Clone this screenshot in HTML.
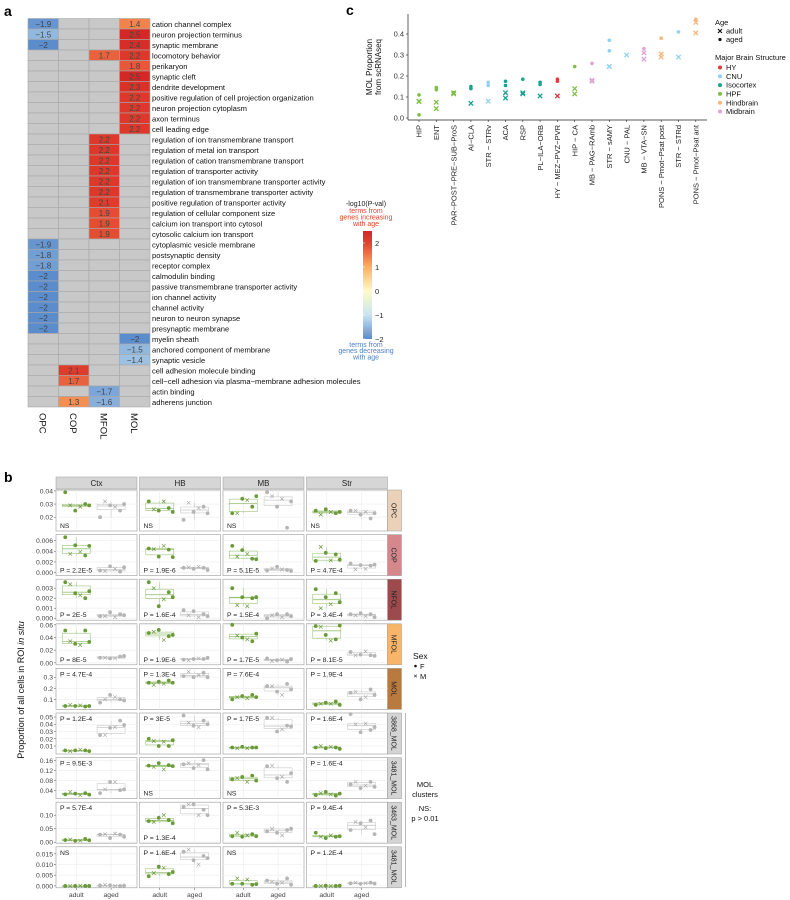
<!DOCTYPE html>
<html><head><meta charset="utf-8">
<style>
body{margin:0;background:#fff;}
svg{font-family:"Liberation Sans",sans-serif;display:block;}
</style></head>
<body>
<svg id="fig" width="790" height="900" viewBox="0 0 790 900" xmlns="http://www.w3.org/2000/svg">
<g id="pa"></g>
<g id="pc"></g>
<g id="pb"></g>
</svg>
<script>
// ===== Panel a data =====
const hmCols=["OPC","COP","MFOL","MOL"];
const hmTerms=["cation channel complex","neuron projection terminus","synaptic membrane","locomotory behavior","perikaryon","synaptic cleft","dendrite development","positive regulation of cell projection organization","neuron projection cytoplasm","axon terminus","cell leading edge","regulation of ion transmembrane transport","regulation of metal ion transport","regulation of cation transmembrane transport","regulation of transporter activity","regulation of ion transmembrane transporter activity","regulation of transmembrane transporter activity","positive regulation of transporter activity","regulation of cellular component size","calcium ion transport into cytosol","cytosolic calcium ion transport","cytoplasmic vesicle membrane","postsynaptic density","receptor complex","calmodulin binding","passive transmembrane transporter activity","ion channel activity","channel activity","neuron to neuron synapse","presynaptic membrane","myelin sheath","anchored component of membrane","synaptic vesicle","cell adhesion molecule binding","cell\u2212cell adhesion via plasma\u2212membrane adhesion molecules","actin binding","adherens junction"];
const hmOPC=[-1.9,-1.5,-2,null,null,null,null,null,null,null,null,null,null,null,null,null,null,null,null,null,null,-1.9,-1.8,-1.8,-2,-2,-2,-2,-2,-2,null,null,null,null,null,null,null];
const hmCOP=[null,null,null,null,null,null,null,null,null,null,null,null,null,null,null,null,null,null,null,null,null,null,null,null,null,null,null,null,null,null,null,null,null,2.1,1.7,null,1.3];
const hmMFOL=[null,null,null,1.7,null,null,null,null,null,null,null,2.2,2.2,2.2,2.2,2.2,2.2,2.1,1.9,1.9,1.9,null,null,null,null,null,null,null,null,null,null,null,null,null,null,-1.7,-1.6];
const hmMOL=[1.4,2.5,2.4,2.2,1.8,2.5,2.3,2.2,2.2,2.2,2.2,null,null,null,null,null,null,null,null,null,null,null,null,null,null,null,null,null,null,null,-2,-1.5,-1.4,null,null,null,null];
const cbTicks=[2,1,0,-1,-2];

// ===== Panel c data =====
const cCats=["HIP","ENT","PAR\u2212POST\u2212PRE\u2212SUB\u2212ProS","AI\u2212CLA","STR \u2212 STRv","ACA","RSP","PL\u2212ILA\u2212ORB","HY \u2212 MEZ\u2212PVZ\u2212PVR","HIP \u2212 CA","MB \u2212 PAG\u2212RAmb","STR \u2212 sAMY","CNU \u2212 PAL","MB \u2212 VTA\u2212SN","PONS \u2212 Pmot\u2212Psat post","STR \u2212 STRd","PONS \u2212 Pmot\u2212Psat ant"];
const cStruct=["HPF","HPF","HPF","Isocortex","CNU","Isocortex","Isocortex","Isocortex","HY","HPF","Midbrain","CNU","CNU","Midbrain","Hindbrain","CNU","Hindbrain"];
const cAdult=[[0.08,0.078],[0.075,0.045],[0.12,0.115],[0.07],[0.08],[0.12,0.095],[0.115,0.12],[0.105],[0.105],[0.14,0.115],[0.18,0.175],[0.245,0.245],[0.30],[0.31,0.28],[0.305,0.29],[0.29],[0.455,0.405]];
const cAged=[[0.11,0.015],[0.145,0.135],[0.12],[0.15,0.14],[0.17,0.155],[0.175,0.155],[0.185],[0.17,0.16],[0.185,0.175],[0.245],[0.26],[0.37,0.32],[],[0.33],[0.38],[0.41],[0.47]];
const cYTicks=[0.0,0.1,0.2,0.3,0.4];
const structNames=["HY","CNU","Isocortex","HPF","Hindbrain","Midbrain"];
const structColors={"HY":"#e8393a","CNU":"#8fd3f2","Isocortex":"#1aa38f","HPF":"#7bc143","Hindbrain":"#f8b77c","Midbrain":"#e0a3d1"};

// ===== Panel b data =====
const bRegions=["Ctx","HB","MB","Str"];
const bRows=["OPC","COP","NFOL","MFOL","MOL","3868_MOL","3481_MOL","3463_MOL","3481_MOL"];
const bRowColors=["#ebd1b8","#d4888c","#9c4a4c","#f6b56b","#b97a40","#d4d4d4","#d4d4d4","#d4d4d4","#d4d4d4"];
const bYMin=[0.0095,-0.00055,-0.0002,-0.0031,0.009,-0.001,0.008,-0.0037,-0.0009];
const bYMax=[0.0407,0.0071,0.0039,0.0616,0.38,0.0555,0.172,0.148,0.0183];
const bTicks=[[0.02,0.03,0.04],[0,0.002,0.004,0.006],[0,0.001,0.002,0.003],[0,0.02,0.04,0.06],[0.1,0.2,0.3],[0.01,0.02,0.03,0.04,0.05],[0.04,0.08,0.12,0.16],[0,0.05,0.10],[0,0.005,0.010,0.015]];
const bTickLabels=[["0.02","0.03","0.04"],["0.000","0.002","0.004","0.006"],["0.000","0.001","0.002","0.003"],["0.00","0.02","0.04","0.06"],["0.1","0.2","0.3"],["0.01","0.02","0.03","0.04","0.05"],["0.04","0.08","0.12","0.16"],["0.00","0.05","0.10"],["0.000","0.005","0.010","0.015"]];
const bP=[["NS","NS","NS","NS"],["P = 2.2E-5","P = 1.9E-6","P = 5.1E-5","P = 4.7E-4"],["P = 2E-5","P = 1.6E-4","P = 1.5E-4","P = 3.4E-4"],["P = 8E-5","P = 1.9E-6","P = 1.7E-5","P = 8.1E-5"],["P = 4.7E-4","P = 1.3E-4","P = 7.6E-4","P = 1.9E-4"],["P = 1.2E-4","P = 3E-5","P = 1.7E-5","P = 1.6E-4"],["P = 9.5E-3","NS","NS","P = 1.6E-4"],["P = 5.7E-4","P = 1.3E-4","P = 5.3E-3","P = 9.4E-4"],["NS","P = 1.6E-4","NS","P = 1.2E-4"]];
const bPPos=[["b","b","b","b"],["b","b","b","b"],["b","b","b","b"],["b","b","b","b"],["t","t","t","t"],["t","t","t","t"],["t","b","b","t"],["t","b","t","t"],["t","t","t","t"]];
const bAdult=[
 [[0.039,0.029,0.025,0.028,0.030,0.029],[0.032,0.026,0.025,0.032,0.027,0.024],[0.023,0.023,0.034,0.033,0.028,0.036],[0.025,0.022,0.026,0.024,0.023,0.024]],
 [[0.0066,0.0035,0.0051,0.0039,0.0032,0.0050],[0.0045,0.0044,0.0030,0.0050,0.0043,0.0029],[0.0050,0.0030,0.0042,0.0035,0.0026,0.0025],[0.0022,0.0048,0.0037,0.0023,0.0034,0.0024]],
 [[0.0036,0.0034,0.0025,0.0023,0.0020,0.0027],[0.0036,0.0030,0.0012,0.0019,0.0026,0.0021],[0.0030,0.0013,0.0021,0.0012,0.0020,0.0021],[0.0029,0.0010,0.0021,0.0014,0.0025,0.0016]],
 [[0.051,0.034,0.030,0.028,0.051,0.033],[0.047,0.049,0.052,0.036,0.042,0.044],[0.060,0.043,0.040,0.037,0.034,0.046],[0.058,0.057,0.044,0.035,0.037,0.059]],
 [[0.04,0.05,0.04,0.045,0.035,0.04],[0.25,0.23,0.26,0.24,0.27,0.25],[0.10,0.12,0.13,0.11,0.14,0.12],[0.05,0.06,0.07,0.06,0.08,0.05]],
 [[0.004,0.003,0.004,0.005,0.004,0.003],[0.020,0.017,0.010,0.016,0.010,0.018],[0.008,0.007,0.009,0.007,0.008,0.008],[0.008,0.010,0.007,0.009,0.008,0.006]],
 [[0.025,0.035,0.028,0.022,0.030,0.024],[0.140,0.135,0.150,0.125,0.142,0.138],[0.085,0.090,0.095,0.075,0.100,0.080],[0.022,0.030,0.035,0.025,0.020,0.028]],
 [[0.008,0.010,0.005,0.006,0.012,0.007],[0.078,0.075,0.090,0.100,0.082,0.070],[0.022,0.035,0.020,0.025,0.030,0.022],[0.035,0.020,0.015,0.025,0.020,0.022]],
 [[0.0000,0.0000,0.0000,0.0001,0.0000,0.0000],[0.0045,0.0060,0.0090,0.0085,0.0055,0.0065],[0.0010,0.0035,0.0010,0.0030,0.0005,0.0008],[0.0000,0.0000,0.0001,0.0000,0.0000,0.0001]]];
const bAged=[
 [[0.020,0.032,0.029,0.028,0.025,0.030],[0.018,0.031,0.024,0.027,0.028,0.023],[0.039,0.036,0.028,0.034,0.012,0.032],[0.025,0.025,0.022,0.024,0.019,0.023]],
 [[0.0004,0.0003,0.0012,0.0007,0.0002,0.0010],[0.0009,0.0010,0.0007,0.0011,0.0009,0.0005],[0.0004,0.0008,0.0011,0.0006,0.0005,0.0003],[0.0017,0.0006,0.0014,0.0007,0.0013,0.0015]],
 [[0.0002,0.0002,0.0006,0.0001,0.0004,0.0003],[0.0008,0.0003,0.0007,0.0001,0.0004,0.0002],[0.0000,0.0003,0.0004,0.0001,0.0004,0.0002],[0.0004,0.0003,0.0005,0.0002,0.0004,0.0001]],
 [[0.008,0.008,0.007,0.007,0.010,0.011],[0.005,0.004,0.006,0.007,0.006,0.008],[0.007,0.003,0.004,0.005,0.002,0.006],[0.017,0.012,0.013,0.018,0.012,0.011]],
 [[0.07,0.10,0.14,0.12,0.10,0.09],[0.31,0.35,0.30,0.32,0.34,0.30],[0.22,0.22,0.17,0.14,0.24,0.19],[0.16,0.17,0.10,0.12,0.19,0.14]],
 [[0.025,0.025,0.035,0.036,0.045,0.039],[0.052,0.042,0.038,0.036,0.045,0.040],[0.049,0.049,0.030,0.033,0.038,0.037],[0.054,0.040,0.029,0.041,0.032,0.036]],
 [[0.030,0.045,0.075,0.075,0.042,0.045],[0.145,0.150,0.130,0.142,0.162,0.125],[0.138,0.140,0.090,0.095,0.075,0.110],[0.065,0.075,0.050,0.060,0.075,0.055]],
 [[0.028,0.030,0.015,0.032,0.028,0.020],[0.130,0.140,0.140,0.100,0.120,0.100],[0.040,0.050,0.035,0.025,0.045,0.050],[0.045,0.075,0.070,0.055,0.080,0.030]],
 [[0.0002,0.0005,0.0003,0.0000,0.0000,0.0001],[0.0160,0.0170,0.0120,0.0100,0.0140,0.0130],[0.0025,0.0020,0.0010,0.0015,0.0035,0.0005],[0.0012,0.0015,0.0010,0.0013,0.0015,0.0011]]];
const bShapes=["dot","cross","dot","cross","dot","dot"];
const bJit=[-11,-6,-1,4,9,13];

const NS="http://www.w3.org/2000/svg";
function mk(tag,attrs,parent,text){const e=document.createElementNS(NS,tag);for(const k in attrs)e.setAttribute(k,attrs[k]);if(text!==undefined)e.textContent=text;parent.appendChild(e);return e;}
const fig=document.getElementById('fig');

let t;
t=mk('text',{x:4,y:16,'font-size':14,'font-weight':'bold'},fig,'a');


t=mk('text',{x:346,y:15,'font-size':14,'font-weight':'bold'},fig,'c');


t=mk('text',{x:4,y:482,'font-size':14,'font-weight':'bold'},fig,'b');



// ===== Panel a =====
const pa=document.getElementById('pa');
function lerp(a,b,f){return a.map((v,i)=>Math.round(v+(b[i]-v)*f));}
const cstops=[[-2,[91,140,204]],[-1,[200,228,240]],[0,[255,251,196]],[1,[253,174,97]],[2,[226,66,46]],[2.5,[210,40,38]]];
function hcol(v){v=Math.max(-2,Math.min(2.5,v));for(let i=0;i<cstops.length-1;i++){if(v<=cstops[i+1][0]){const f=(v-cstops[i][0])/(cstops[i+1][0]-cstops[i][0]);const c=lerp(cstops[i][1],cstops[i+1][1],f);return `rgb(${c[0]},${c[1]},${c[2]})`;}}return 'rgb(210,40,38)';}
const hx0=28,cw=30.5,hy0=18.5,rh=10.5;
const hmVals=[hmOPC,hmCOP,hmMFOL,hmMOL];
function hxs(c){return hx0+c*cw;}
function hys(r){return hy0+r*rh;}
hmTerms.forEach((term,r)=>{
  for(let c=0;c<4;c++){
    const v=hmVals[c][r];
    const rect=mk('rect',{x:hxs(c),y:hys(r),width:cw,height:rh,fill:v===null?'#c8c8c8':hcol(v),stroke:'#a8a8a8','stroke-width':0.6},pa);
    
    
    if(v!==null){
      const tx=mk('text',{x:hxs(c)+cw/2,y:hys(r)+rh/2+3,'font-size':8,'text-anchor':'middle',fill:'#444'},pa,String(v).replace('-','\u2212'));
      
      
    }
  }
  const lb=mk('text',{x:hxs(4)+2,y:hys(r)+rh/2+3,'font-size':7.6,fill:'#111'},pa,term);
  
  
});
hmCols.forEach((c,i)=>{
  const x=hxs(i)+cw/2-4, y=hys(hmTerms.length)+6;
  const tx=mk('text',{x:x,y:y,'font-size':9.5,transform:`rotate(90 ${x} ${y})`,fill:'#111'},pa,c);
  
  
});
const cbx=363,cbw=9,cbTop=231,cbBot=339;
function cbY(v){return cbBot-(v-(-2))/(2.5-(-2))*(cbBot-cbTop);}
const defs=mk('defs',{},fig);
const lg=mk('linearGradient',{id:'cbg',x1:0,y1:1,x2:0,y2:0},defs);
for(let i=0;i<=9;i++){const v=-2+i*0.5;mk('stop',{offset:(i/9),'stop-color':hcol(v)},lg);}
const cb=mk('rect',{x:cbx,y:cbTop,width:cbw,height:cbBot-cbTop,fill:'url(#cbg)'},pa);


cbTicks.forEach(v=>{
  mk('line',{x1:cbx,x2:cbx+2,y1:cbY(v),y2:cbY(v),stroke:'#fff','stroke-width':0.6},pa);
  const tx=mk('text',{x:cbx+12,y:cbY(v)+3,'font-size':7.5,fill:'#222'},pa,String(v).replace('-','\u2212'));
  
  
});
[["-log10(P-val)",206,'#222'],["terms from",213,'#e8422e'],["genes increasing",219.5,'#e8422e'],["with age",226,'#e8422e'],["terms from",347,'#4a7fc4'],["genes decreasing",353,'#4a7fc4'],["with age",359.5,'#4a7fc4']].forEach(a=>{
  const tx=mk('text',{x:366,y:a[1],'font-size':7,'text-anchor':'middle',fill:a[2]},pa,a[0]);
  
  
});

// ===== Panel c =====
const pc=document.getElementById('pc');
const cx0=408,cx1=707,cyTop=14,cyBot=120;
function cxs(i){return 419+i*17.3;}
function cys(v){return 118-v*210;}
mk('line',{x1:cx0,x2:cx0,y1:cyTop,y2:cyBot,stroke:'#222','stroke-width':0.7},pc);
mk('line',{x1:cx0,x2:cx1,y1:cyBot,y2:cyBot,stroke:'#222','stroke-width':0.7},pc);
cYTicks.forEach(v=>{
  mk('line',{x1:cx0-2,x2:cx0,y1:cys(v),y2:cys(v),stroke:'#222','stroke-width':0.6},pc);
  const tx=mk('text',{x:cx0-4,y:cys(v)+2.6,'font-size':7.5,'text-anchor':'end',fill:'#333'},pc,v.toFixed(1));
  
  
});
[["MOL Proportion",372],["from scRNAseq",381]].forEach(a=>{
  const tx=mk('text',{x:a[1],y:67,'font-size':8,'text-anchor':'middle',transform:`rotate(-90 ${a[1]} 67)`,fill:'#111'},pc,a[0]);
  
  
});
function cross(g,x,y,s,col,w){
  const p=mk('path',{d:`M${x-s} ${y-s}L${x+s} ${y+s}M${x-s} ${y+s}L${x+s} ${y-s}`,stroke:col,'stroke-width':w,fill:'none'},g);
  return p;
}
cCats.forEach((cat,i)=>{
  const x=cxs(i);
  mk('line',{x1:x,x2:x,y1:cyBot,y2:cyBot+2,stroke:'#222','stroke-width':0.6},pc);
  const tx=mk('text',{x:x+2.7,y:cyBot+5,'font-size':7.5,'text-anchor':'end',transform:`rotate(-90 ${x+2.7} ${cyBot+5})`,fill:'#222'},pc,cat);
  
  
  const col=structColors[cStruct[i]];
  cAdult[i].forEach(v=>{const p=cross(pc,x,cys(v),2.2,col,1.3);});
  cAged[i].forEach(v=>{const p=mk('circle',{cx:x,cy:cys(v),r:1.8,fill:col},pc);});
});
let lt=mk('text',{x:715,y:25,'font-size':7.5,fill:'#111'},pc,'Age');

cross(pc,720,31,2,'#111',1.2);
lt=mk('text',{x:726,y:33.5,'font-size':7.5,fill:'#111'},pc,'adult');
mk('circle',{cx:720,cy:39.5,r:1.6,fill:'#111'},pc);
lt=mk('text',{x:726,y:42,'font-size':7.5,fill:'#111'},pc,'aged');
lt=mk('text',{x:715,y:60,'font-size':7.5,fill:'#111'},pc,'Major Brain Structure');
structNames.forEach((s,i)=>{
  const y=67.5+i*8.8;
  mk('circle',{cx:720,cy:y,r:2,fill:structColors[s]},pc);
  const tx=mk('text',{x:726,y:y+2.6,'font-size':7.5,fill:'#111'},pc,s);
  
  
});

// ===== Panel b =====
const pb=document.getElementById('pb');
const colX=[56,139.5,223,306.5],pw=81,rowY0=490,rowStep=44.6,ph=41;
const fA=0.25,fG=0.68;
bRegions.forEach((r,j)=>{
  const s=mk('rect',{x:colX[j],y:477,width:pw,height:12,fill:'#d6d6d6',stroke:'#999','stroke-width':0.5},pb);
  
  const tx=mk('text',{x:colX[j]+pw/2,y:486,'font-size':8,'text-anchor':'middle',fill:'#222'},pb,r);
  
});
function quant(a,q){const s=[...a].sort((x,y)=>x-y);const p=(s.length-1)*q;const lo=Math.floor(p),hi=Math.ceil(p);return s[lo]+(s[hi]-s[lo])*(p-lo);}
bRows.forEach((row,i)=>{
  const y0=rowY0+i*rowStep;
  function ys(v){return y0+ph-(v-bYMin[i])/(bYMax[i]-bYMin[i])*ph;}
  const rs=mk('rect',{x:387.5,y:y0,width:14,height:ph,fill:bRowColors[i],stroke:'#999','stroke-width':0.5},pb);
  
  const sx=391.5,sy=y0+ph/2;
  const st=mk('text',{x:sx,y:sy,'font-size':7,'text-anchor':'middle',transform:`rotate(90 ${sx} ${sy})`,fill:'#222'},pb,row);
  
  bTicks[i].forEach((v,k)=>{
    mk('line',{x1:colX[0]-2,x2:colX[0],y1:ys(v),y2:ys(v),stroke:'#444','stroke-width':0.5},pb);
    const tx=mk('text',{x:colX[0]-3,y:ys(v)+2.5,'font-size':6.8,'text-anchor':'end',fill:'#444'},pb,bTickLabels[i][k]);
    
  });
  bRegions.forEach((reg,j)=>{
    const x0=colX[j];
    const pr=mk('rect',{x:x0,y:y0,width:pw,height:ph,fill:'#fff',stroke:'#999','stroke-width':0.6},pb);
    
    bTicks[i].forEach(v=>{mk('line',{x1:x0,x2:x0+pw,y1:ys(v),y2:ys(v),stroke:'#ececec','stroke-width':0.6},pb);});
    [fA,fG].forEach(f=>{mk('line',{x1:x0+pw*f,x2:x0+pw*f,y1:y0,y2:y0+ph,stroke:'#ececec','stroke-width':0.6},pb);});
    [[bAdult[i][j],fA,'#6a9a3a','#5f8f2e'],[bAged[i][j],fG,'#b5b5b5','#a5a5a5']].forEach(g=>{
      const vals=g[0],cx=x0+pw*g[1];
      const q1=quant(vals,0.25),q2=quant(vals,0.5),q3=quant(vals,0.75),iqr=q3-q1;
      const lo=Math.min(...vals.filter(v=>v>=q1-1.5*iqr)),hi=Math.max(...vals.filter(v=>v<=q3+1.5*iqr));
      const bc=g[1]<0.5?'#9cc27a':'#c9c9c9';
      mk('line',{x1:cx,x2:cx,y1:ys(hi),y2:ys(q3),stroke:bc,'stroke-width':0.6},pb);
      mk('line',{x1:cx,x2:cx,y1:ys(q1),y2:ys(lo),stroke:bc,'stroke-width':0.6},pb);
      const bx=mk('rect',{x:cx-14,y:ys(q3),width:28,height:Math.max(0.8,ys(q1)-ys(q3)),fill:'none',stroke:bc,'stroke-width':0.6},pb);
      
      mk('line',{x1:cx-14,x2:cx+14,y1:ys(q2),y2:ys(q2),stroke:bc,'stroke-width':0.8},pb);
      vals.forEach((v,k)=>{
        const px=cx+bJit[k];
        let m;
        if(bShapes[k]==='dot'){m=mk('circle',{cx:px,cy:ys(v),r:1.9,fill:g[2]},pb);}
        else{m=cross(pb,px,ys(v),1.8,g[3],0.6);}
        
        
      });
    });
    const py=bPPos[i][j]==='t'?y0+8:y0+ph-3;
    const ptx=mk('text',{x:x0+4,y:py,'font-size':6.8,fill:'#222'},pb,bP[i][j]);
    
    if(i===bRows.length-1){
      [["adult",fA],["aged",fG]].forEach(a=>{
        const xx=x0+pw*a[1];
        mk('line',{x1:xx,x2:xx,y1:y0+ph,y2:y0+ph+2,stroke:'#444','stroke-width':0.5},pb);
        const tx=mk('text',{x:xx,y:y0+ph+9,'font-size':6.8,'text-anchor':'middle',fill:'#444'},pb,a[0]);
        
      });
    }
  });
});
const ytl=mk('text',{x:24,y:690,'font-size':9,'text-anchor':'middle',transform:'rotate(-90 24 690)',fill:'#111'},pb);

mk('tspan',{},ytl,'Proportion of all cells in ROI ');
mk('tspan',{'font-style':'italic'},ytl,'in situ');
let sl=mk('text',{x:413,y:659,'font-size':8.5,fill:'#111'},pb,'Sex');
mk('circle',{cx:415.5,cy:666,r:1.3,fill:'#111'},pb);
sl=mk('text',{x:420,y:669,'font-size':7.5,fill:'#111'},pb,'F');
cross(pb,415.5,676,1.3,'#111',0.6);
sl=mk('text',{x:420,y:679,'font-size':7.5,fill:'#111'},pb,'M');
mk('line',{x1:405.5,x2:405.5,y1:713,y2:887,stroke:'#999','stroke-width':0.7},pb);
[["MOL",787],["clusters",797],["NS:",811],["p > 0.01",821]].forEach(a=>{
  const tx=mk('text',{x:425,y:a[1],'font-size':7.5,'text-anchor':'middle',fill:'#111'},pb,a[0]);
  
});
</script>
</body></html>
